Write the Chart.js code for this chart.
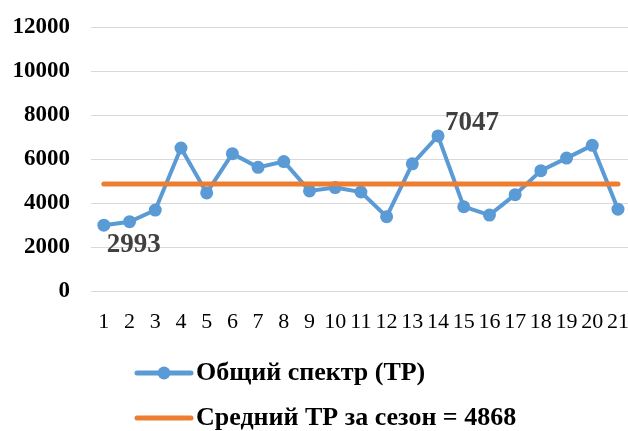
<!DOCTYPE html>
<html><head><meta charset="utf-8">
<script src="https://cdn.jsdelivr.net/npm/chart.js@4"></script>
<style>html,body{margin:0;padding:0;background:#fff}canvas{display:block}</style>
</head><body>
<canvas id="c" width="628" height="431"></canvas>
<script>
const categories = ["1","2","3","4","5","6","7","8","9","10","11","12","13","14","15","16","17","18","19","20","21"];
const spectrumValues = [2993,3150,3680,6500,4460,6240,5620,5885,4550,4700,4500,3380,5780,7047,3830,3450,4380,5470,6040,6620,3720];
const seasonMean = 4868;
const meanValues = categories.map(() => seasonMean);
const yTicks = [0,2000,4000,6000,8000,10000,12000];
const seriesNames = ["Общий спектр (ТР)", "Средний ТР за сезон = 4868"];
const labeledPoints = [0, 13];

const BLUE = '#5B9BD5', ORANGE = '#ED7D31';
const SERIF = '"Liberation Serif", "Times New Roman", serif';

const pointLabels = {
  id: 'pointLabels',
  afterDatasetsDraw(chart) {
    const ctx = chart.ctx;
    const meta = chart.getDatasetMeta(0);
    ctx.save();
    ctx.font = 'bold 27px ' + SERIF;
    ctx.fillStyle = '#404040';
    ctx.textBaseline = 'middle';
    ctx.textAlign = 'left';
    labeledPoints.forEach(i => {
      const p = meta.data[i];
      const txt = String(spectrumValues[i]);
      if (i === 0) ctx.fillText(txt, p.x + 3, p.y + 20);
      else ctx.fillText(txt, p.x + 7, p.y - 13);
    });
    ctx.restore();
  }
};

const customLegend = {
  id: 'customLegend',
  afterDraw(chart) {
    const ctx = chart.ctx;
    ctx.save();
    const x0 = 137, x1 = 191, tx = 196;
    const rows = [373, 418];
    ctx.strokeStyle = BLUE; ctx.lineWidth = 5; ctx.lineCap = 'round';
    ctx.beginPath(); ctx.moveTo(x0, rows[0]); ctx.lineTo(x1, rows[0]); ctx.stroke();
    ctx.fillStyle = BLUE;
    ctx.beginPath(); ctx.arc((x0 + x1) / 2, rows[0], 6.5, 0, Math.PI * 2); ctx.fill();
    ctx.strokeStyle = ORANGE; ctx.lineWidth = 5;
    ctx.beginPath(); ctx.moveTo(x0, rows[1]); ctx.lineTo(x1, rows[1]); ctx.stroke();
    ctx.fillStyle = '#000';
    ctx.font = 'bold 26px ' + SERIF;
    ctx.textBaseline = 'middle';
    ctx.textAlign = 'left';
    ctx.fillText(seriesNames[0], tx, rows[0]);
    ctx.fillText(seriesNames[1], tx, rows[1]);
    ctx.restore();
  }
};

new Chart(document.getElementById('c'), {
  type: 'line',
  data: {
    datasets: [
      {
        label: seriesNames[0],
        data: categories.map((c, i) => ({ x: Number(c), y: spectrumValues[i] })),
        borderColor: BLUE, backgroundColor: BLUE,
        borderWidth: 4, pointRadius: 6.5, pointBackgroundColor: BLUE, pointBorderWidth: 0,
        tension: 0, order: 2
      },
      {
        label: seriesNames[1],
        data: categories.map((c, i) => ({ x: Number(c), y: meanValues[i] })),
        borderColor: ORANGE, backgroundColor: ORANGE,
        borderWidth: 5, pointRadius: 0, borderCapStyle: 'round',
        tension: 0, order: 1
      }
    ]
  },
  options: {
    responsive: false,
    animation: false,
    events: [],
    layout: { autoPadding: false, padding: { top: 27, right: 0, bottom: 0, left: 0 } },
    plugins: { legend: { display: false }, tooltip: { enabled: false } },
    scales: {
      x: {
        type: 'linear',
        min: 0.5, max: 21.39,
        afterBuildTicks(scale) { scale.ticks = categories.map(c => ({ value: Number(c) })); },
        afterFit(scale) { scale.height = 140; scale.paddingRight = 0; scale.paddingLeft = 0; },
        grid: { display: false, drawTicks: true, tickLength: 18, tickColor: 'rgba(0,0,0,0)' },
        border: { display: false },
        ticks: {
          autoSkip: false, maxRotation: 0, minRotation: 0, padding: 0,
          color: '#000', font: { family: SERIF, size: 22 },
          callback: (v) => String(v)
        }
      },
      y: {
        min: 0, max: 12000,
        afterBuildTicks(scale) { scale.ticks = yTicks.map(v => ({ value: v })); },
        afterFit(scale) { scale.width = 91; },
        grid: { color: '#D9D9D9', lineWidth: 1, drawTicks: true, tickLength: 9, tickColor: 'rgba(0,0,0,0)' },
        border: { display: false },
        ticks: {
          padding: 12, color: '#000',
          font: { family: SERIF, size: 23, weight: 'bold' },
          callback: (v) => String(v)
        }
      }
    }
  },
  plugins: [pointLabels, customLegend]
});
</script>
</body></html>
